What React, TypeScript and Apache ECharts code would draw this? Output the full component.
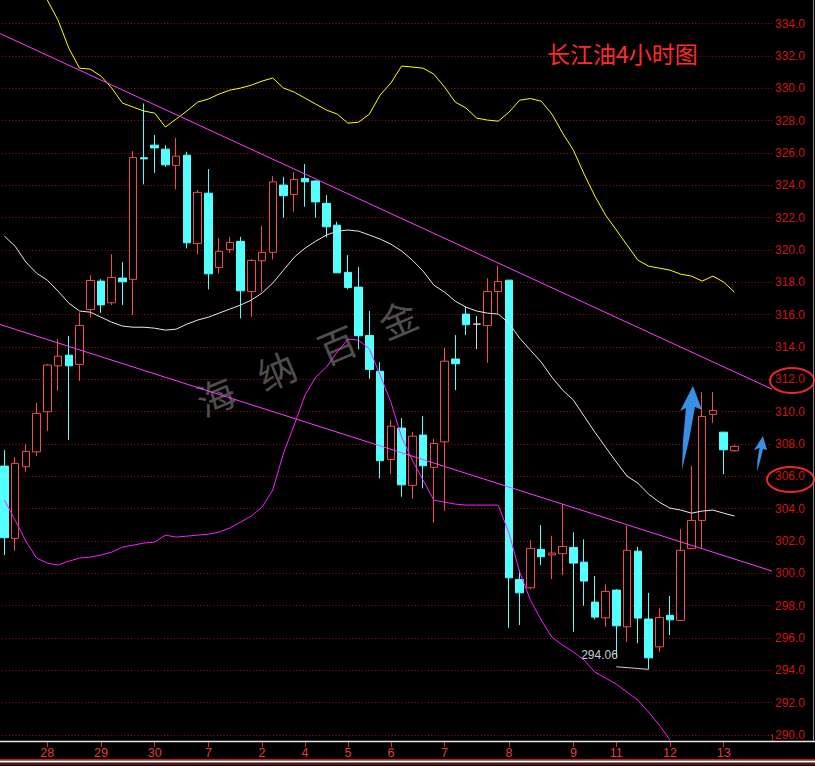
import React, { useEffect, useRef } from 'react';
import * as echarts from 'echarts';

// ---- x axis: day labels placed at the first 4h bar of each day ----
const dayLabels = ['28', '29', '30', '7', '2', '4', '5', '6', '7', '8', '9', '11', '12', '13'];
const dayStartIndex = [4, 9, 14, 19, 24, 28, 32, 36, 41, 47, 53, 57, 62, 67];
const monthStartIndex = 19;
const categoryCount = 72;

// ---- y axis ----
const yMin = 290;
const yMax = 336;
const yStep = 2;

// ---- candles (4h) ----
const opens = [306.63, 302.16, 306.59, 307.51, 309.99, 312.83, 313.49, 312.92, 316.32, 318.07, 316.73, 318.26, 318.18, 325.70, 326.48, 326.23, 325.23, 325.86, 320.40, 323.51, 318.92, 320.03, 320.53, 317.43, 319.33, 319.85, 324.01, 323.43, 324.42, 324.26, 322.88, 321.53, 318.61, 317.70, 314.71, 312.50, 307.04, 308.98, 305.44, 308.55, 306.55, 308.13, 313.25, 316.03, 315.41, 315.33, 317.43, 318.13, 299.62, 299.10, 301.48, 301.14, 301.21, 301.60, 300.69, 298.22, 297.25, 298.96, 296.69, 301.37, 297.17, 295.45, 297.40, 297.09, 301.52, 303.27, 309.83, 308.73, 307.58];
const closes = [302.20, 306.80, 307.54, 309.89, 312.88, 313.43, 312.83, 315.33, 318.11, 316.60, 318.30, 318.03, 325.72, 325.63, 326.31, 325.26, 325.80, 320.44, 323.56, 318.52, 319.91, 320.46, 317.47, 319.35, 319.85, 324.21, 323.35, 324.36, 324.21, 322.97, 321.43, 318.58, 317.68, 314.69, 312.61, 306.96, 309.10, 305.47, 308.48, 306.65, 308.03, 313.12, 312.96, 315.37, 315.41, 317.43, 318.05, 299.72, 298.79, 301.54, 301.02, 301.25, 301.66, 300.63, 299.52, 297.29, 298.88, 296.75, 301.42, 297.23, 294.77, 297.27, 297.12, 301.42, 303.27, 309.70, 310.07, 307.64, 307.85];
const lows = [301.13, 301.39, 306.28, 307.25, 308.81, 311.29, 308.24, 311.90, 315.83, 316.11, 316.60, 316.60, 315.97, 324.05, 324.77, 325.14, 323.74, 320.09, 319.72, 317.56, 318.55, 319.82, 315.76, 315.86, 317.41, 319.41, 321.99, 322.36, 322.67, 321.99, 320.77, 318.57, 317.56, 313.85, 312.03, 305.87, 306.12, 304.73, 304.61, 305.25, 303.12, 303.87, 311.33, 314.73, 313.87, 313.02, 316.07, 296.63, 296.80, 299.02, 300.51, 299.64, 299.89, 296.38, 297.99, 297.15, 296.69, 294.84, 295.76, 295.67, 294.06, 295.15, 296.18, 297.06, 301.50, 301.54, 309.31, 306.13, 307.51];
const highs = [307.62, 307.17, 307.99, 310.54, 312.94, 314.48, 314.67, 316.13, 318.44, 318.19, 319.74, 319.25, 326.11, 329.06, 327.10, 326.48, 326.93, 326.07, 323.70, 325.00, 320.73, 320.81, 320.81, 319.43, 321.47, 324.56, 324.52, 324.81, 325.31, 324.32, 323.39, 321.74, 319.68, 318.95, 316.22, 313.06, 309.47, 309.60, 308.73, 309.72, 308.32, 313.95, 314.73, 316.48, 315.91, 318.24, 319.00, 318.13, 300.20, 302.05, 302.98, 302.32, 304.28, 302.53, 302.10, 299.83, 299.33, 299.02, 302.94, 301.64, 298.79, 297.83, 298.59, 302.73, 306.63, 311.22, 311.22, 308.73, 307.93];
const dojiIndex = 44;

// ---- band lines ----
const upperBand = [341.0, 339.6, 338.2, 336.9, 335.45, 334.21, 332.48, 331.24, 331.18, 330.75, 330.01, 329.08, 328.83, 328.59, 328.46, 327.60, 328.09, 328.59, 329.14, 329.33, 329.64, 329.88, 330.01, 330.19, 330.44, 330.63, 330.01, 329.76, 329.39, 329.02, 328.65, 328.40, 327.84, 327.90, 328.40, 329.58, 330.32, 331.37, 331.31, 331.24, 330.87, 330.07, 329.14, 328.77, 328.15, 328.03, 327.96, 328.52, 329.26, 329.36, 329.20, 328.40, 327.22, 326.17, 324.69, 323.33, 322.15, 321.23, 320.30, 319.37, 319.00, 318.87, 318.75, 318.50, 318.38, 318.07, 318.38, 318.01, 317.39];
const middleBand = [320.85, 320.23, 319.25, 318.56, 318.13, 317.45, 316.71, 316.22, 316.15, 315.84, 315.53, 315.29, 315.22, 315.22, 315.16, 315.04, 315.10, 315.41, 315.66, 315.84, 316.09, 316.34, 316.59, 316.90, 317.33, 317.95, 318.75, 319.55, 320.11, 320.54, 320.92, 321.16, 321.23, 321.16, 320.92, 320.67, 320.36, 319.93, 319.37, 318.69, 317.82, 317.39, 316.83, 316.46, 316.22, 316.09, 316.03, 315.47, 314.54, 313.80, 313.06, 312.13, 311.33, 310.71, 309.72, 308.73, 307.80, 306.88, 306.01, 305.58, 304.90, 304.40, 304.03, 303.91, 303.72, 303.85, 303.91, 303.72, 303.54];
const lowerBand = [304.53, 303.29, 301.99, 300.94, 300.63, 300.51, 300.75, 300.94, 301.00, 301.13, 301.31, 301.62, 301.74, 301.87, 301.93, 302.36, 302.24, 302.30, 302.36, 302.42, 302.55, 302.80, 303.17, 303.54, 304.09, 305.15, 307.43, 309.17, 311.02, 312.13, 312.75, 313.68, 314.48, 314.42, 313.87, 312.26, 310.59, 308.42, 307.00, 305.76, 304.53, 304.40, 304.28, 304.22, 304.22, 304.22, 304.22, 302.49, 300.07, 298.34, 297.11, 296.05, 295.56, 295.13, 294.63, 293.89, 293.52, 293.15, 292.65, 292.16, 291.42, 290.61, 289.7];

// ---- trend lines (fraction of plot width, price) ----
const upperTrend = [[0, 333.41], [1, 311.39]];
const lowerTrend = [[0, 315.41], [1, 300.14]];

// ---- low annotation ----
const lowMarkIndex = 60;
const lowMarkValue = 294.06;
const lowMarkLineStartIndex = 57;
const lowMarkLineStartValue = 294.22;

const titleText = '长江油4小时图';
const watermarkChars = ['海', '纳', '百', '金'];

const UP = '#f24c4c';
const DOWN = '#54ffff';

export default function App() {
  const ref = useRef<HTMLDivElement>(null);

  useEffect(() => {
    document.body.style.margin = '0';
    document.body.style.background = '#000';
    const chart = echarts.init(ref.current!, undefined, { renderer: 'svg' });

    const categories = Array.from({ length: categoryCount }, (_, i) => String(i));
    const labelMap: Record<number, string> = {};
    dayStartIndex.forEach((idx, k) => (labelMap[idx] = dayLabels[k]));
    const isDay = (i: number) => labelMap[i] !== undefined;

    const candleData = opens.map((o, i) => {
      const v = [o, closes[i], lows[i], highs[i]];
      if (i === dojiIndex) {
        return { value: v, itemStyle: { color: '#d8d8d8', borderColor: '#d8d8d8' } };
      }
      return v;
    });

    const lineCommon = {
      type: 'line',
      xAxisIndex: 0,
      yAxisIndex: 0,
      symbol: 'none',
      showSymbol: false,
      silent: true,
      z: 5,
    };

    const watermarkChildren = watermarkChars.map((ch, k) => ({
      type: 'text',
      x: k * 66,
      y: 0,
      style: {
        text: ch,
        fill: '#4e4e4e',
        fontSize: 38,
        fontFamily: 'Noto Sans CJK SC',
        align: 'center',
        verticalAlign: 'middle',
      },
    }));

    chart.setOption({
      animation: false,
      backgroundColor: '#000000',
      title: {
        text: titleText,
        left: 547,
        top: 41,
        padding: 0,
        textStyle: {
          color: '#ff2a2a',
          fontSize: 23,
          fontWeight: 'normal',
          fontFamily: 'Noto Sans CJK SC',
        },
      },
      grid: { left: -1, right: 43, top: -8.8, bottom: 31, containLabel: false, outerBoundsMode: 'none' },
      xAxis: [
        {
          type: 'category',
          data: categories,
          boundaryGap: true,
          offset: 6,
          axisLine: { show: false },
          axisTick: {
            show: true,
            alignWithLabel: true,
            interval: (i: number) => isDay(i),
            length: 6,
            lineStyle: { color: '#c83434' },
          },
          axisLabel: {
            interval: (i: number) => isDay(i),
            formatter: (_v: string, i: number) => labelMap[i] ?? '',
            color: (_v: string, i: number) => (i === monthStartIndex ? '#40ffff' : '#e43c3c'),
            fontSize: 12.5,
            fontFamily: 'Liberation Sans',
            margin: 5,
          },
          splitLine: { show: false },
        },
        { type: 'value', min: 0, max: 1, show: false },
      ],
      yAxis: {
        type: 'value',
        position: 'right',
        min: yMin,
        max: yMax,
        interval: yStep,
        axisLine: { show: true, lineStyle: { color: '#c41010' } },
        axisTick: { show: false },
        axisLabel: {
          color: '#d01414',
          fontSize: 12,
          fontFamily: 'Liberation Sans',
          margin: 3,
          padding: [6, 0, 0, 0],
          showMaxLabel: false,
          formatter: (v: number) => v.toFixed(1),
        },
        splitLine: { show: true, lineStyle: { color: '#a01010', type: [1, 2.3], width: 1 } },
      },
      series: [
        {
          type: 'candlestick',
          xAxisIndex: 0,
          yAxisIndex: 0,
          data: candleData,
          barWidth: 8,
          z: 3,
          itemStyle: {
            color: '#000000',
            color0: DOWN,
            borderColor: UP,
            borderColor0: DOWN,
            borderWidth: 1,
          },
          markPoint: {
            symbol: 'circle',
            symbolSize: 1,
            itemStyle: { color: 'rgba(0,0,0,0)' },
            data: [
              {
                coord: [lowMarkIndex, lowMarkValue],
                label: {
                  show: true,
                  position: 'inside',
                  formatter: lowMarkValue.toFixed(2),
                  offset: [-49, -14],
                  color: '#c4cad6',
                  fontSize: 12,
                  fontFamily: 'Liberation Sans',
                },
              },
            ],
          },
          markLine: {
            silent: true,
            symbol: ['none', 'none'],
            label: { show: false },
            lineStyle: { color: '#d0d0d0', type: 'solid', width: 1 },
            data: [
              [
                { coord: [lowMarkLineStartIndex, lowMarkLineStartValue] },
                { coord: [lowMarkIndex, lowMarkValue] },
              ],
            ],
          },
        },
        { ...lineCommon, data: middleBand, lineStyle: { color: '#e8e8e8', width: 1 } },
        { ...lineCommon, data: upperBand, lineStyle: { color: '#ffff00', width: 1 } },
        { ...lineCommon, data: lowerBand, clip: false, lineStyle: { color: '#ff1cff', width: 1 } },
        {
          type: 'line',
          xAxisIndex: 1,
          yAxisIndex: 0,
          data: upperTrend,
          symbol: 'none',
          silent: true,
          z: 6,
          lineStyle: { color: '#ff3cff', width: 1 },
        },
        {
          type: 'line',
          xAxisIndex: 1,
          yAxisIndex: 0,
          data: lowerTrend,
          symbol: 'none',
          silent: true,
          z: 6,
          lineStyle: { color: '#ff3cff', width: 1 },
        },
      ],
      graphic: [
        {
          type: 'group',
          x: 215,
          y: 395,
          rotation: 0.4,
          z: 1,
          silent: true,
          children: watermarkChildren,
        },
        // arrows
        {
          type: 'polygon',
          z: 100,
          shape: {
            points: [[693, 386], [702, 410], [695, 407], [689, 440], [682, 470], [683, 440], [686, 408], [680, 411]],
          },
          style: { fill: '#3a8ee4' },
        },
        {
          type: 'polygon',
          z: 100,
          shape: {
            points: [[763, 436], [767, 450], [763, 449], [760, 461], [757, 472], [757.5, 460], [759.5, 448], [754, 450]],
          },
          style: { fill: '#3a8ee4' },
        },
        // cover the part of the lowest axis label under the frame line
        { type: 'rect', z: 100, shape: { x: 773, y: 742.3, width: 40, height: 16 }, style: { fill: '#000' } },
        // ellipses
        {
          type: 'ellipse',
          z: 101,
          shape: { cx: 792, cy: 380.5, rx: 22, ry: 12.5 },
          style: { fill: 'none', stroke: '#ee2828', lineWidth: 2 },
        },
        {
          type: 'ellipse',
          z: 101,
          shape: { cx: 790.5, cy: 479.5, rx: 23.5, ry: 12.5 },
          style: { fill: 'none', stroke: '#ee2828', lineWidth: 2 },
        },
        // frame lines
        { type: 'line', z: 101, shape: { x1: 772.5, y1: 734, x2: 772.5, y2: 741 }, style: { stroke: '#c41010', lineWidth: 1 } },
        { type: 'line', z: 101, shape: { x1: 0, y1: 741.5, x2: 815, y2: 741.5 }, style: { stroke: '#e6e6e6', lineWidth: 1.5 } },
        { type: 'line', z: 101, shape: { x1: 813.5, y1: 0, x2: 813.5, y2: 741 }, style: { stroke: '#8c8c8c', lineWidth: 1 } },
        { type: 'line', z: 101, shape: { x1: 0, y1: 759.5, x2: 815, y2: 759.5 }, style: { stroke: '#c81818', lineWidth: 1 } },
        { type: 'line', z: 101, shape: { x1: 0, y1: 761.6, x2: 815, y2: 761.6 }, style: { stroke: '#ffffff', lineWidth: 2 } },
        { type: 'line', z: 101, shape: { x1: 0, y1: 764, x2: 815, y2: 764 }, style: { stroke: '#c81818', lineWidth: 1.2 } },
      ],
    });

    return () => chart.dispose();
  }, []);

  return (
    <div
      ref={ref}
      style={{ position: 'absolute', left: 0, top: 0, width: 815, height: 766, background: '#000' }}
    />
  );
}
